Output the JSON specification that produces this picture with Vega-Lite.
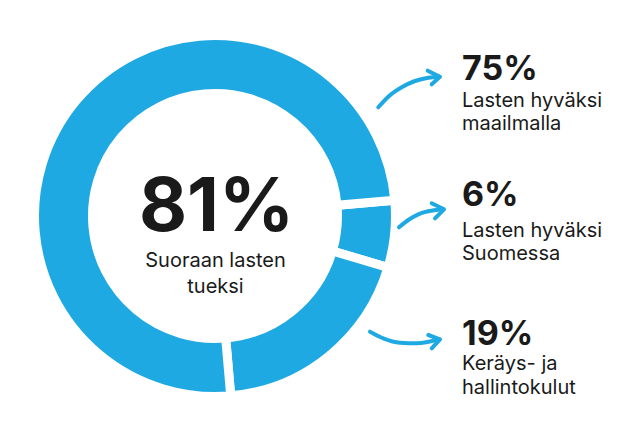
{
  "$schema": "https://vega.github.io/schema/vega-lite/v6.json",
  "width": 640,
  "height": 427,
  "autosize": {"type": "fit", "contains": "padding"},
  "padding": 0,
  "background": "white",
  "config": {"view": {"stroke": null}, "font": "Inter"},
  "datasets": {
    "segments": [
      {"ord": 1, "name": "Lasten hyväksi Suomessa", "value": 6, "pct": "6%", "desc": ["Lasten hyväksi", "Suomessa"]},
      {"ord": 2, "name": "Keräys- ja hallintokulut", "value": 19, "pct": "19%", "desc": ["Keräys- ja", "hallintokulut"]},
      {"ord": 3, "name": "Lasten hyväksi maailmalla", "value": 75, "pct": "75%", "desc": ["Lasten hyväksi", "maailmalla"]}
    ],
    "total": [
      {"pct": "81%", "desc": ["Suoraan lasten", "tueksi"]}
    ],
    "arrowCurves": [
      {"arrow": "a1", "i": 1, "x": 378.3, "y": 107.3},
      {"arrow": "a1", "i": 2, "x": 388.3, "y": 96.7},
      {"arrow": "a1", "i": 3, "x": 401.7, "y": 87.3},
      {"arrow": "a1", "i": 4, "x": 415, "y": 81},
      {"arrow": "a1", "i": 5, "x": 428.3, "y": 77.7},
      {"arrow": "a1", "i": 6, "x": 439, "y": 76.7},
      {"arrow": "a2", "i": 1, "x": 399, "y": 227.3},
      {"arrow": "a2", "i": 2, "x": 408.3, "y": 220},
      {"arrow": "a2", "i": 3, "x": 418.3, "y": 214.3},
      {"arrow": "a2", "i": 4, "x": 431.7, "y": 210.7},
      {"arrow": "a2", "i": 5, "x": 443.3, "y": 209.3},
      {"arrow": "a3", "i": 1, "x": 370, "y": 331.7},
      {"arrow": "a3", "i": 2, "x": 383.3, "y": 338.3},
      {"arrow": "a3", "i": 3, "x": 400, "y": 342.7},
      {"arrow": "a3", "i": 4, "x": 416.7, "y": 343.3},
      {"arrow": "a3", "i": 5, "x": 439.3, "y": 339.3}
    ],
    "arrowHeads": [
      {"arrow": "a1", "i": 1, "x": 427.7, "y": 70.7},
      {"arrow": "a1", "i": 2, "x": 440, "y": 76.7},
      {"arrow": "a1", "i": 3, "x": 431.7, "y": 84.3},
      {"arrow": "a2", "i": 1, "x": 431.7, "y": 203.3},
      {"arrow": "a2", "i": 2, "x": 444, "y": 209.3},
      {"arrow": "a2", "i": 3, "x": 435, "y": 218.3},
      {"arrow": "a3", "i": 1, "x": 428.3, "y": 335},
      {"arrow": "a3", "i": 2, "x": 440, "y": 339.3},
      {"arrow": "a3", "i": 3, "x": 431.7, "y": 348.3}
    ]
  },
  "layer": [
    {
      "data": {"name": "segments"},
      "mark": {"type": "arc", "innerRadius": 122.5, "outerRadius": 180.5, "fill": "#1fa9e2", "stroke": "white", "strokeWidth": 9},
      "encoding": {
        "theta": {"field": "value", "type": "quantitative", "stack": true, "scale": {"range": [1.4835, 7.7667]}},
        "order": {"field": "ord", "type": "quantitative"},
        "x": {"datum": 215, "type": "quantitative", "scale": {"domain": [0, 640], "nice": false, "zero": false}, "axis": null},
        "y": {"datum": 216, "type": "quantitative", "scale": {"domain": [0, 427], "nice": false, "zero": false, "reverse": true}, "axis": null}
      }
    },
    {
      "data": {"name": "arrowCurves"},
      "mark": {"type": "line", "interpolate": "monotone", "color": "#1fa9e2", "strokeWidth": 4, "strokeCap": "round"},
      "encoding": {
        "x": {"field": "x", "type": "quantitative", "scale": {"domain": [0, 640], "nice": false, "zero": false}, "axis": null},
        "y": {"field": "y", "type": "quantitative", "scale": {"domain": [0, 427], "nice": false, "zero": false, "reverse": true}, "axis": null},
        "detail": {"field": "arrow", "type": "nominal"},
        "order": {"field": "i", "type": "quantitative"}
      }
    },
    {
      "data": {"name": "arrowHeads"},
      "mark": {"type": "line", "color": "#1fa9e2", "strokeWidth": 4, "strokeCap": "round", "strokeJoin": "round"},
      "encoding": {
        "x": {"field": "x", "type": "quantitative", "scale": {"domain": [0, 640], "nice": false, "zero": false}, "axis": null},
        "y": {"field": "y", "type": "quantitative", "scale": {"domain": [0, 427], "nice": false, "zero": false, "reverse": true}, "axis": null},
        "detail": {"field": "arrow", "type": "nominal"},
        "order": {"field": "i", "type": "quantitative"}
      }
    },
    {
      "data": {"name": "total"},
      "mark": {"type": "text", "font": "Inter", "fontWeight": 700, "fontSize": 74, "align": "center", "baseline": "alphabetic", "color": "#1a1a1a"},
      "encoding": {
        "text": {"field": "pct", "type": "nominal"},
        "x": {"datum": 216.5, "type": "quantitative"},
        "y": {"datum": 231, "type": "quantitative"}
      }
    },
    {
      "data": {"name": "total"},
      "mark": {"type": "text", "font": "Inter", "fontSize": 20, "lineHeight": 25.5, "align": "center", "baseline": "alphabetic", "color": "#1a1a1a"},
      "encoding": {
        "text": {"field": "desc", "type": "nominal"},
        "x": {"datum": 215.5, "type": "quantitative"},
        "y": {"datum": 267, "type": "quantitative"}
      }
    },
    {
      "data": {"name": "segments"},
      "transform": [{"filter": "datum.value == 75"}],
      "mark": {"type": "text", "font": "Inter", "fontWeight": 700, "fontSize": 34, "align": "left", "baseline": "alphabetic", "color": "#1a1a1a"},
      "encoding": {
        "text": {"field": "pct", "type": "nominal"},
        "x": {"datum": 462, "type": "quantitative"},
        "y": {"datum": 79.5, "type": "quantitative"}
      }
    },
    {
      "data": {"name": "segments"},
      "transform": [{"filter": "datum.value == 75"}],
      "mark": {"type": "text", "font": "Inter", "fontSize": 20, "lineHeight": 23.5, "align": "left", "baseline": "alphabetic", "color": "#1a1a1a"},
      "encoding": {
        "text": {"field": "desc", "type": "nominal"},
        "x": {"datum": 462, "type": "quantitative"},
        "y": {"datum": 106.7, "type": "quantitative"}
      }
    },
    {
      "data": {"name": "segments"},
      "transform": [{"filter": "datum.value == 6"}],
      "mark": {"type": "text", "font": "Inter", "fontWeight": 700, "fontSize": 34, "align": "left", "baseline": "alphabetic", "color": "#1a1a1a"},
      "encoding": {
        "text": {"field": "pct", "type": "nominal"},
        "x": {"datum": 462, "type": "quantitative"},
        "y": {"datum": 205.7, "type": "quantitative"}
      }
    },
    {
      "data": {"name": "segments"},
      "transform": [{"filter": "datum.value == 6"}],
      "mark": {"type": "text", "font": "Inter", "fontSize": 20, "lineHeight": 23.5, "align": "left", "baseline": "alphabetic", "color": "#1a1a1a"},
      "encoding": {
        "text": {"field": "desc", "type": "nominal"},
        "x": {"datum": 462, "type": "quantitative"},
        "y": {"datum": 236.7, "type": "quantitative"}
      }
    },
    {
      "data": {"name": "segments"},
      "transform": [{"filter": "datum.value == 19"}],
      "mark": {"type": "text", "font": "Inter", "fontWeight": 700, "fontSize": 34, "align": "left", "baseline": "alphabetic", "color": "#1a1a1a"},
      "encoding": {
        "text": {"field": "pct", "type": "nominal"},
        "x": {"datum": 462, "type": "quantitative"},
        "y": {"datum": 345, "type": "quantitative"}
      }
    },
    {
      "data": {"name": "segments"},
      "transform": [{"filter": "datum.value == 19"}],
      "mark": {"type": "text", "font": "Inter", "fontSize": 20, "lineHeight": 24, "align": "left", "baseline": "alphabetic", "color": "#1a1a1a"},
      "encoding": {
        "text": {"field": "desc", "type": "nominal"},
        "x": {"datum": 462, "type": "quantitative"},
        "y": {"datum": 370, "type": "quantitative"}
      }
    }
  ]
}
